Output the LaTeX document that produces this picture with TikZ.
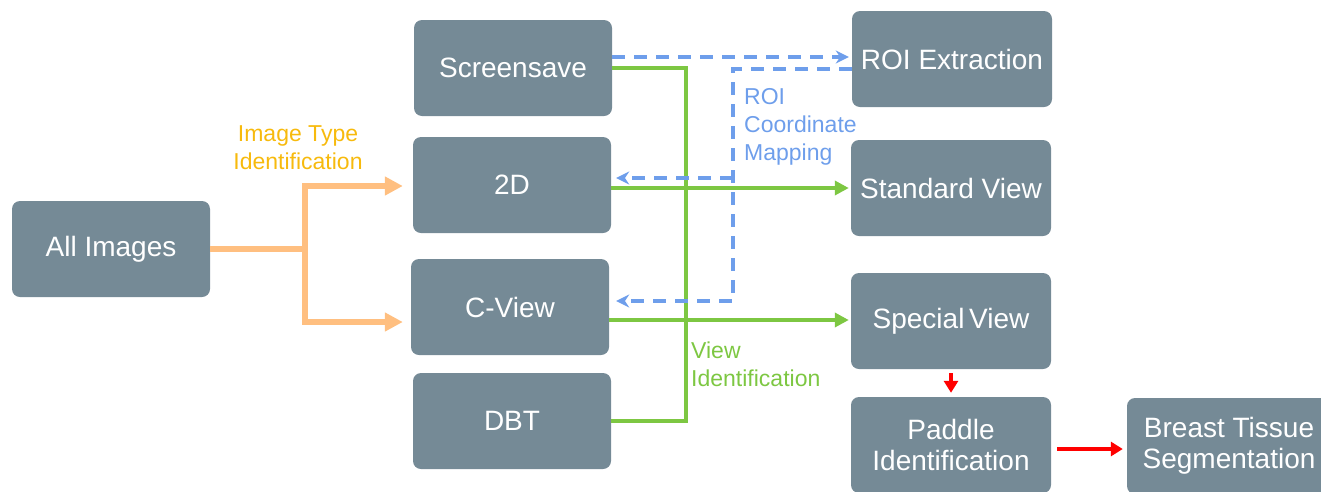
\documentclass[tikz,border=0pt]{standalone}
\usepackage{fontspec}
\setmainfont{Liberation Sans}
\usepackage{xcolor}
\definecolor{boxcolor}{rgb}{0.46,0.54,0.59}
\definecolor{typecolor}{rgb}{1.0,0.75,0.5}
\definecolor{typetext}{rgb}{0.97,0.73,0.05}
\definecolor{viewcolor}{rgb}{0.49,0.78,0.26}
\definecolor{roicolor}{rgb}{0.43,0.62,0.92}
\usetikzlibrary{arrows.meta}

\begin{document}
\begin{tikzpicture}[x=1pt, y=-1pt,
	stage/.style={fill=boxcolor, rounded corners=8pt, minimum width=198pt, minimum height=96pt, text=white, align=center, font=\fontsize{28}{31}\selectfont},
	lbl/.style={inner sep=0pt, font=\fontsize{23}{28}\selectfont},
	typeline/.style={typecolor, line width=5.5pt},
	viewline/.style={viewcolor, line width=4pt},
	roiline/.style={roicolor, line width=4pt, dash pattern=on 13pt off 9pt, -{Stealth[length=13pt,width=13pt]}},
	redline/.style={red, line width=4pt, -{Triangle[length=12pt,width=14pt]}}]
	\clip (0, 0) rectangle (1321, 491);
	\node [stage] (allimg) at (111, 249) {All Images};
	\node [stage] (screen) at (513, 68) {Screensave};
	\node [stage] (twod) at (512, 185) {2D};
	\node [stage] (cview) at (510, 307) {C-View};
	\node [stage] (dbt) at (512, 421) {DBT};
	\node [stage, minimum width=200pt] (roi) at (952, 59) {ROI Extraction};
	\node [stage, minimum width=200pt] (stdview) at (951, 188) {Standard View};
	\node [stage, minimum width=200pt] (spcview) at (951, 321) {Special\,View};
	\node [stage, minimum width=200pt] (paddle) at (951, 445) {Paddle\\Identification};
	\node [stage, minimum width=204pt] (breast) at (1229, 446) {Breast Tissue\\Segmentation};
	% image type
	\coordinate (split) at (305, 249);
	\draw [typeline] (allimg.east) -- (split);
	\draw [typeline, -{Triangle[length=18pt,width=18pt]}, shorten >=10pt] (split) |- ([yshift=-1pt]twod.west);
	\draw [typeline, -{Triangle[length=18pt,width=18pt]}, shorten >=8pt] (split) |- ([yshift=-15pt]cview.west);
	\node [lbl, typetext, align=center] (typelbl) at (298, 148) {Image Type\\Identification};
	% view identification
	\draw [viewline] (screen.east) -- ++(74, 0) |- (dbt.east);
	\draw [viewline, -{Triangle[length=14pt,width=14pt]}, shorten >=2pt] (stdview.west -| twod.east) -- (stdview.west);
	\draw [viewline, -{Triangle[length=14pt,width=14pt]}, shorten >=2pt] ([yshift=1pt]spcview.west -| cview.east) -- ([yshift=1pt]spcview.west);
	\node [lbl, viewcolor, align=left, anchor=west] (viewlbl) at (691, 364) {View\\Identification};
	% roi mapping
	\coordinate (mapx) at (733, 0);
	\draw [roiline, shorten >=3pt] ([yshift=11pt]screen.east) -- ([yshift=2pt]roi.west);
	\draw [roiline, shorten >=7pt] ([yshift=-10pt]roi.west) -| ([yshift=6pt]cview.east -| mapx) -- ([yshift=6pt]cview.east);
	\draw [roiline, shorten >=5pt] ([yshift=7pt]twod.east -| mapx) -- ([yshift=7pt]twod.east);
	\node [lbl, roicolor, align=left, anchor=west] (roilbl) at (744, 127) {ROI\\Coordinate\\Mapping};
	% paddle
	\draw [redline, shorten <=4pt, shorten >=4pt] (spcview.south) -- (paddle.north);
	\draw [redline, shorten <=6pt, shorten >=4pt] ([yshift=-4pt]paddle.east) -- ([yshift=-4pt]paddle.east -| breast.west);
\end{tikzpicture}
\end{document}
